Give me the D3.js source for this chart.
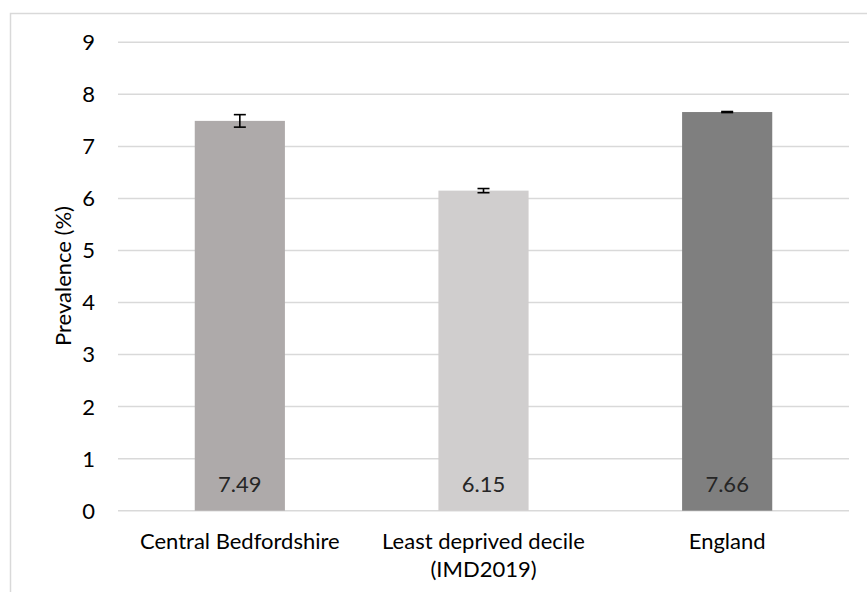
<!DOCTYPE html>
<html><head><meta charset="utf-8">
<script src="https://cdn.jsdelivr.net/npm/d3@7"></script>
<style>body{margin:0;background:#fff;} text{font-family:Lato,"Noto Sans",sans-serif;}</style>
</head><body>
<svg id="chart" width="867" height="592"></svg>
<script>
const categories = [["Central Bedfordshire"], ["Least deprived decile", "(IMD2019)"], ["England"]];
const categoryKeys = ["Central Bedfordshire", "Least deprived decile (IMD2019)", "England"];
const values = [7.49, 6.15, 7.66];
const lowerCI = [7.37, 6.11, 7.65];
const upperCI = [7.61, 6.19, 7.67];
const valueLabels = ["7.49", "6.15", "7.66"];
const barColors = ["#AEAAAA", "#D0CECE", "#7F7F7F"];
const yTicks = [0,1,2,3,4,5,6,7,8,9];
const yTitle = "Prevalence (%)";

const FS = 22;
const svg = d3.select("#chart");
svg.append("rect").attr("x",10.5).attr("y",13.5).attr("width",900).attr("height",700)
  .attr("fill","#fff").attr("stroke","#D9D9D9").attr("stroke-width",1.5);

const x = d3.scaleBand().domain(categoryKeys).range([118,849]).paddingInner(0.63).paddingOuter(0.315);
const y = d3.scaleLinear().domain([0,9]).range([510.7,42.3]);

const grid = svg.append("g");
grid.selectAll("line").data(yTicks).join("line")
  .attr("x1",118).attr("x2",849).attr("y1",d=>y(d)).attr("y2",d=>y(d))
  .attr("stroke","#D9D9D9").attr("stroke-width",1.5);

svg.append("g").selectAll("text").data(yTicks).join("text")
  .attr("x",95).attr("y",d=>y(d)).attr("dy","0.36em").attr("text-anchor","end")
  .attr("font-size",FS).attr("fill","#000").text(d=>d);

svg.append("g").selectAll("rect").data(values).join("rect")
  .attr("x",(d,i)=>x(categoryKeys[i])).attr("width",x.bandwidth())
  .attr("y",d=>y(d)).attr("height",d=>y(0)-y(d))
  .attr("fill",(d,i)=>barColors[i]);

// error bars
const eb = svg.append("g").attr("stroke","#000").attr("stroke-width",1.6);
categoryKeys.forEach((k,i)=>{
  const cx = x(k)+x.bandwidth()/2;
  eb.append("line").attr("x1",cx).attr("x2",cx).attr("y1",y(lowerCI[i])).attr("y2",y(upperCI[i]));
  eb.append("line").attr("x1",cx-6).attr("x2",cx+6).attr("y1",y(lowerCI[i])).attr("y2",y(lowerCI[i]));
  eb.append("line").attr("x1",cx-6).attr("x2",cx+6).attr("y1",y(upperCI[i])).attr("y2",y(upperCI[i]));
});

svg.append("g").selectAll("text").data(valueLabels).join("text")
  .attr("x",(d,i)=>x(categoryKeys[i])+x.bandwidth()/2).attr("y",492)
  .attr("text-anchor","middle").attr("font-size",FS).attr("fill","#262626").text(d=>d);

const cl = svg.append("g");
categories.forEach((lines,i)=>{
  const t = cl.append("text").attr("x",x(categoryKeys[i])+x.bandwidth()/2).attr("y",549)
    .attr("text-anchor","middle").attr("font-size",FS).attr("fill","#000");
  lines.forEach((l,j)=>t.append("tspan").attr("x",x(categoryKeys[i])+x.bandwidth()/2).attr("y",549+j*28.3).text(l));
});

svg.append("text").attr("transform","translate(71,276) rotate(-90)")
  .attr("text-anchor","middle").attr("font-size",FS).attr("fill","#000").text(yTitle);
</script>
</body></html>
